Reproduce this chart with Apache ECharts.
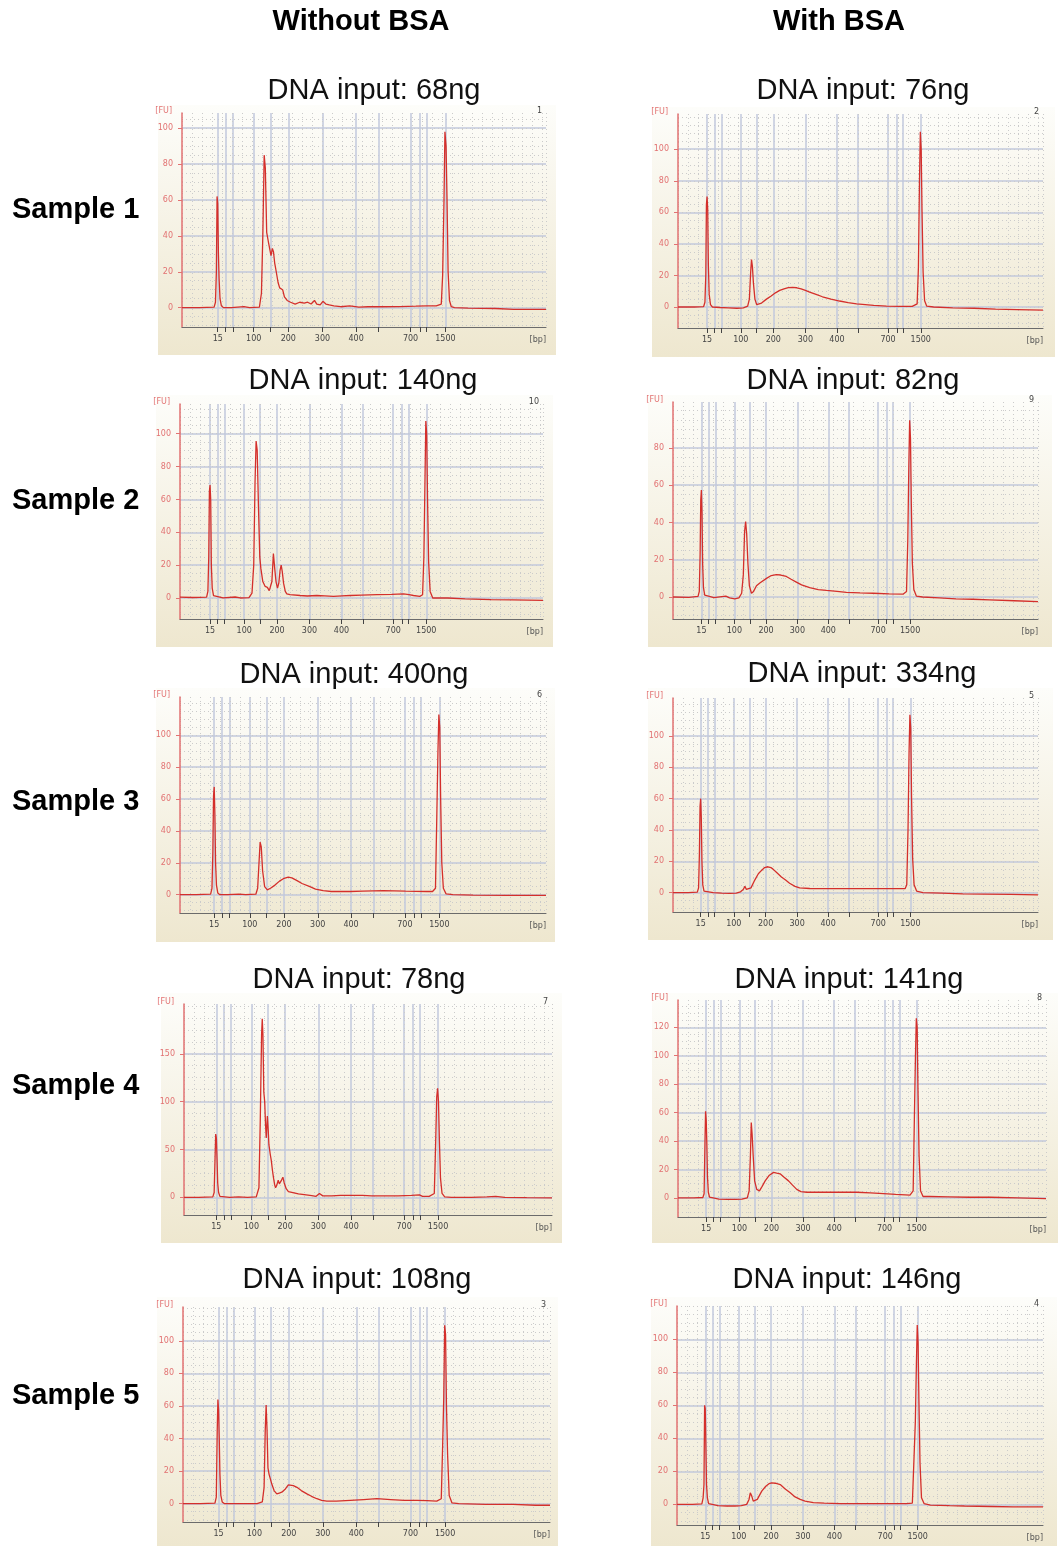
<!DOCTYPE html>
<html>
<head>
<meta charset="utf-8">
<title>Bioanalyzer traces with and without BSA</title>
<script src="https://cdn.jsdelivr.net/npm/echarts@6/dist/echarts.min.js"></script>
<style>
  html, body { margin: 0; padding: 0; background: #fff; }
  #chart { width: 1060px; height: 1546px; }
</style>
</head>
<body>
<div id="chart"></div>
<script>
// column / row headings
const conditions = ['Without BSA', 'With BSA']
const samples = ['Sample 1', 'Sample 2', 'Sample 3', 'Sample 4', 'Sample 5']
// panels in reading order: row by row, left (no BSA) then right (BSA)
const dnaInputs = ['68ng', '76ng', '140ng', '82ng', '400ng', '334ng', '78ng', '141ng', '108ng', '146ng']
const runNumbers = ['1', '2', '10', '9', '6', '5', '7', '8', '3', '4']

// DNA 1000 ladder, placed on a migration scale where 15 bp = 0 and 1500 bp = 100
const ladderBp = [15, 25, 50, 100, 150, 200, 300, 400, 500, 700, 850, 1000, 1500]
const ladderPos = [0, 3.5, 6.7, 15.8, 23.2, 31.0, 46.0, 60.8, 70.7, 84.7, 88.8, 91.8, 100]
const labelledBp = [15, 100, 200, 300, 400, 700, 1500]

// FU tick labels of each panel
const fuTicks = [
    [0, 20, 40, 60, 80, 100], [0, 20, 40, 60, 80, 100],
    [0, 20, 40, 60, 80, 100], [0, 20, 40, 60, 80],
    [0, 20, 40, 60, 80, 100], [0, 20, 40, 60, 80, 100],
    [0, 50, 100, 150], [0, 20, 40, 60, 80, 100, 120],
    [0, 20, 40, 60, 80, 100], [0, 20, 40, 60, 80, 100]
]

// traces: [migration position, FU]
const s1NoBsa = [[-15.7,0],[-8,0],[-1.6,0.3],[-1,3],[-0.6,20],[-0.3,62],[0,58],[0.3,30],[0.6,16],[1,5],[1.6,1],[2.5,0],[6,0],[11.5,0.6],[14,0],[18.3,0.3],[19.2,8],[19.8,40],[20.4,85],[20.9,78],[21.5,42],[22.2,37],[22.9,37],[23.4,29],[24,33],[24.5,31],[25,25],[25.7,20],[26.5,14],[27.2,11],[27.8,12],[28.5,10],[29.3,6],[30.5,4],[32,3],[34,2],[36,3],[38,2.5],[39.5,3],[41,2],[42.5,4],[43.5,2],[45,1.5],[46.2,3.5],[47.5,2],[49,1.5],[51,1],[54,0.5],[58,1],[62,0.3],[66,0.5],[72,0.5],[80,0.6],[87,0.8],[92,1],[96,1],[98.2,2],[98.8,18],[99.4,60],[99.8,98],[100.3,90],[100.7,62],[101.2,20],[101.8,4],[102.6,0.5],[104,0],[110,-0.3],[122,-0.5],[130,-1],[144.2,-1]]
const s1Bsa = [[-13.6,0],[-6,0],[-1.6,0.3],[-1,3],[-0.6,20],[-0.3,65],[0,70],[0.3,62],[0.6,27],[1,8],[1.6,1.5],[2.5,0],[6,-0.3],[10,-0.5],[14,-0.8],[17,-0.5],[19,0.5],[19.8,5],[20.4,22],[20.8,30],[21.2,26],[21.7,15],[22.4,5],[23.2,1.5],[24,1],[25.5,2.5],[27.8,5],[30,7],[32,9],[34,10.5],[36,11.5],[38,12.3],[40,12.5],[42,12.2],[44,11.5],[46,10.5],[48,9.5],[51,8],[54,6.5],[58,5],[62,3.8],[66,2.8],[70,2],[74,1.5],[78,1],[84,0.6],[90,0.4],[96,0.4],[98.3,2],[98.9,25],[99.4,80],[99.8,111],[100.2,100],[100.6,60],[101.1,22],[101.8,4],[102.8,0.5],[106,0],[115,-0.5],[125,-0.8],[135,-1.3],[145,-1.6],[157.2,-2]]
const s2NoBsa = [[-13.9,0.5],[-8,0.3],[-1.6,0.5],[-1,4],[-0.6,25],[-0.3,65],[0,68.7],[0.3,60],[0.6,20],[1,6],[1.6,1.5],[2.5,0.3],[6,0],[11.6,0.6],[14,0],[18,0.2],[19.4,3],[20.2,20],[20.8,70],[21.3,95.5],[21.8,90],[22.4,55],[23,25],[23.5,18],[24.4,10],[25.5,7],[26.5,6.5],[27.4,4.5],[28,4],[28.6,10],[29.3,27],[29.9,18],[30.5,10],[31.2,6],[31.8,9],[32.4,17],[32.9,20],[33.4,16],[34,9],[34.8,4],[35.5,2.5],[37,2],[41.7,1.5],[45,1.2],[49.4,1.5],[53,1.3],[57.1,1],[61,1.3],[64.8,1.5],[70,1.7],[77.2,2],[84,2.2],[89.5,2.5],[92,2],[94.1,1.5],[97,1],[98.3,2],[98.9,25],[99.4,70],[99.8,107.7],[100.2,100],[100.6,60],[101.1,22],[101.8,4],[103,0],[110,0],[118,-0.5],[130,-1],[140,-1.2],[154,-1.5]]
const s2Bsa = [[-13.6,0],[-6,-0.2],[-1.6,0.3],[-1,3],[-0.6,23],[-0.3,52],[0,57.4],[0.3,45],[0.6,18],[1,5],[1.6,1],[2.5,0],[6,-0.3],[11.7,0.5],[13.5,-0.5],[16,-1],[18,-0.5],[19.3,2],[20.1,12],[20.7,35],[21.2,40.5],[21.7,34],[22.3,18],[23,6],[24,2],[25,3],[26.4,6],[28,7.5],[31.2,10],[33.5,11.5],[35.9,12],[38,11.8],[40.7,11],[43,9.5],[45.5,8],[48,6.5],[51.9,5],[56,4],[59.9,3.5],[65,3],[69.5,2.5],[76,2.2],[82.3,2],[90,1.7],[96.6,1.5],[98.3,3],[98.9,30],[99.4,70],[99.8,94.8],[100.2,85],[100.6,50],[101.1,18],[101.8,4],[103,0.5],[106,0],[114,-0.5],[122,-1],[130,-1.2],[138,-1.5],[150,-2],[161.3,-2.5]]
const s3NoBsa = [[-15.2,0],[-8,0],[-1.6,0.3],[-1,4],[-0.6,27],[-0.3,62],[0,67.6],[0.3,50],[0.6,20],[1,6],[1.6,1],[2.5,0],[6,0],[11,0.3],[14,0],[18.5,0.3],[19.3,4],[19.9,20],[20.4,33],[20.9,30],[21.5,15],[22.4,5],[23.6,3],[25,4],[27,6],[29,8.5],[30.7,10],[32.9,11],[34.5,10.5],[36.6,9],[39,7],[42.5,5],[45,3.5],[48.4,2.5],[52,2],[60.3,2],[66,2.2],[75.1,2.5],[85,2.2],[94.4,2],[97,2],[98.3,4],[98.9,50],[99.4,90],[99.8,113],[100.2,105],[100.6,60],[101.1,20],[101.8,4],[103,0.5],[106,0],[115,-0.3],[130,-0.5],[147.4,-0.5]]
const s3Bsa = [[-13.2,0],[-6,0],[-1.6,0.3],[-1,3],[-0.6,25],[-0.3,55],[0,60],[0.3,48],[0.6,20],[1,5],[1.6,1],[2.5,0],[6,0],[10,-0.3],[13.8,-0.5],[17,-0.3],[19,0.5],[20.3,2],[21.1,4],[21.8,2],[22.6,1],[24,3],[25.8,8],[27.5,12],[28.9,14],[30.5,16],[32.1,16.5],[33.5,16],[34.5,15],[36.5,12.5],[38.5,10],[40.5,8],[42.4,6],[45,4],[47.2,3],[52,2.6],[58.3,2.5],[66,2.5],[74.2,2.5],[85,2.5],[94.9,2.5],[97.5,2.5],[98.3,5],[98.9,40],[99.4,90],[99.8,113.6],[100.2,105],[100.6,60],[101.1,22],[101.8,5],[103,1],[106,0],[115,-0.3],[125,-0.8],[135,-1],[148,-1.2],[160.9,-1.5]]
const s4NoBsa = [[-14.6,0],[-8,0],[-1.6,0.5],[-1,5],[-0.6,40],[-0.3,66],[0,62],[0.3,40],[0.6,15],[1,5],[1.6,1],[2.5,0],[6,0],[10,0.5],[14,0],[18,0.5],[19.2,10],[19.8,80],[20.4,170],[20.7,186.6],[21,170],[21.4,110],[21.8,100],[22.2,75],[22.5,62],[23,85],[23.4,70],[23.7,55],[24.3,45],[24.8,38],[25.3,28],[25.8,20],[26.3,13],[26.7,10],[27.3,13],[27.9,18],[28.4,14],[28.8,12],[29.4,18],[30,21],[30.6,15],[31.5,9],[32.5,6],[34.5,5],[37,3.5],[40.5,2.5],[43,1.8],[45,1],[46.5,4],[48,1.5],[52,1.5],[56,2],[60,2],[66,2],[70,1.5],[75,1.5],[82,1.5],[88,2],[91.6,2.5],[93,1],[96,1],[98.3,4],[98.9,55],[99.4,105],[99.8,114],[100.2,100],[100.6,60],[101.1,20],[101.8,4],[103,0.5],[106,0],[115,0],[122,0.5],[126,1],[130,0],[140,-0.3],[151.4,-0.5]]
const s4Bsa = [[-13.4,0],[-6,0],[-1.6,0.3],[-1,3],[-0.6,38],[-0.3,61],[0,55],[0.3,38],[0.6,15],[1,4],[1.6,0.5],[2.5,-0.5],[6,-0.8],[10,-1],[14,-1],[17,-0.8],[19.5,0],[20.4,5],[21,30],[21.4,53],[21.8,45],[22.3,30],[23,12],[24,6],[25.3,5],[26.5,8],[28,12],[30,16],[32,18],[33.5,17.5],[35.1,17],[37,14.5],[39.1,12],[41,9],[43,6],[45,4.5],[47.8,4],[54,4],[60.4,4],[66,4],[71.5,4],[78,3.5],[84.2,3],[90,2.5],[96.8,2],[98.3,5],[98.9,58],[99.4,100],[99.8,126.4],[100.2,120],[100.6,75],[101.1,30],[101.8,5],[103,1],[106,1],[115,0.8],[125,0.5],[135,0.5],[148,0],[161.4,-0.5]]
const s5NoBsa = [[-15.7,0],[-8,0],[-1.6,0.3],[-1,4],[-0.6,44],[-0.3,64],[0,58],[0.3,40],[0.6,18],[1,5],[1.6,1],[2.5,0],[6,0],[12,0],[17,0],[19.3,1],[20.1,10],[20.6,45],[21,60.5],[21.4,45],[21.8,22],[22.3,18],[23.5,12],[24.5,8],[25.7,6],[26.8,6.5],[27.9,7],[29.5,9],[30.8,11.5],[31.6,12.5],[33,11],[34.6,10],[36.5,8],[39,6],[41,4.5],[43.4,3],[45.5,2],[47.8,1.5],[52,1.5],[58.1,2],[64,2.5],[69.9,3],[76,2.5],[82,2],[87.5,2],[92,1.8],[96.3,1.5],[98.3,3],[98.9,35],[99.4,65],[99.8,109.6],[100.2,104],[100.6,60],[101.1,30],[101.8,5],[103,0.5],[106,0],[118,-0.5],[130,-0.5],[140,-1],[146.3,-1]]
const s5Bsa = [[-13.3,0],[-6,0],[-1.6,0.3],[-1,4],[-0.6,12],[-0.3,60],[0,58],[0.3,35],[0.6,12],[1,4],[1.6,0.5],[2.5,-0.5],[6,-0.8],[10,-1],[14,-1],[17,-0.8],[19.5,0],[20.6,3],[21.2,7],[21.5,8],[21.9,5],[22.6,2],[23.5,1.5],[24.5,3],[26.6,8],[28.5,11],[30,12.5],[31.3,13],[33,12.8],[35.3,12],[37.5,9.5],[40,7],[42.3,4.5],[44.7,3],[47,2],[50.9,1],[56,0.7],[63.5,0.5],[75,0.5],[85,0.5],[94.8,0.5],[97.5,0.8],[98.3,2],[98.9,50],[99.4,85],[99.8,108.7],[100.2,98],[100.6,62],[101.1,25],[101.8,4],[103,0.5],[106,-0.5],[115,-0.8],[122,-1],[135,-1.3],[145,-1.5],[159,-1.5]]

const traces = [s1NoBsa, s1Bsa, s2NoBsa, s2Bsa, s3NoBsa, s3Bsa, s4NoBsa, s4Bsa, s5NoBsa, s5Bsa]

// layout of every panel: beige box, plot grid, axis extents
const panels = [
    { box: [158, 105, 398, 250], grid: [182, 113, 364, 214], x: [-15.7, 144.2], y: [-10.8, 108.5], title: [374, 91] },
    { box: [652, 107, 403, 250], grid: [678, 114, 365, 214], x: [-13.6, 157.2], y: [-13.3, 122.3], title: [863, 91] },
    { box: [156, 395, 397, 252], grid: [180, 404, 363, 215], x: [-13.9, 154.0], y: [-12.8, 118.1], title: [363, 381] },
    { box: [648, 395, 404, 252], grid: [673, 402, 365, 217], x: [-13.6, 161.3], y: [-11.8, 104.6], title: [853, 381] },
    { box: [156, 688, 399, 254], grid: [180, 697, 366, 216], x: [-15.2, 147.4], y: [-11.5, 124.0], title: [354, 675] },
    { box: [648, 688, 405, 252], grid: [673, 698, 365, 214], x: [-13.2, 160.9], y: [-12.4, 124.3], title: [862, 674] },
    { box: [161, 993, 401, 250], grid: [184, 1004, 368, 211], x: [-14.6, 151.4], y: [-18.5, 202.0], title: [359, 980] },
    { box: [652, 993, 406, 250], grid: [678, 1000, 368, 217], x: [-13.4, 161.4], y: [-13.4, 139.2], title: [849, 980] },
    { box: [157, 1297, 401, 249], grid: [183, 1307, 367, 215], x: [-15.7, 146.3], y: [-11.3, 120.8], title: [357, 1280] },
    { box: [651, 1297, 406, 249], grid: [677, 1306, 366, 219], x: [-13.3, 159.0], y: [-12.5, 120.2], title: [847, 1280] }
]
const headerX = [361, 839]
const sampleY = [210, 501, 802, 1086, 1396]

const red = '#d42f2b'
const axisRed = '#e27272'
const gridBlue = '#c2c9dc'
const dotGrey = '#cbcbcb'
const textFont = '"Liberation Sans", Arial, sans-serif'
const smallFont = '"DejaVu Sans", sans-serif'

const labelPos = labelledBp.map(b => ladderPos[ladderBp.indexOf(b)])

const chart = echarts.init(document.getElementById('chart'), null, { renderer: 'canvas' })

let option = {
    animation: false,
    backgroundColor: '#ffffff',
    grid: [],
    xAxis: [],
    yAxis: [],
    series: [],
    graphic: []
}

conditions.forEach((c, i) => {
    option.graphic.push({
        type: 'text', x: headerX[i], y: 22, z: 100,
        style: { text: c, font: 'bold 29px ' + textFont, fill: '#000', textAlign: 'center', textVerticalAlign: 'middle' }
    })
})
samples.forEach((s, i) => {
    option.graphic.push({
        type: 'text', x: 12, y: sampleY[i], z: 100,
        style: { text: s, font: 'bold 29px ' + textFont, fill: '#000', textAlign: 'left', textVerticalAlign: 'middle' }
    })
})

panels.forEach((p, i) => {
    let [gx, gy, gw, gh] = p.grid
    let ticks = fuTicks[i]
    let major = ticks[1] - ticks[0]
    let minor = major / 4
    // dotted background rows, every quarter of a labelled step
    let dotRows = []
    for (let v = Math.ceil(p.y[0] / minor) * minor; v <= p.y[1]; v += minor) dotRows.push(v)

    option.graphic.push({
        type: 'rect', z: -100,
        shape: { x: p.box[0], y: p.box[1], width: p.box[2], height: p.box[3] },
        style: {
            fill: new echarts.graphic.LinearGradient(0, 0, 0, 1, [
                { offset: 0, color: '#fdfdfa' },
                { offset: 1, color: '#eee7cf' }
            ])
        }
    })
    option.graphic.push({
        type: 'text', x: p.title[0], y: p.title[1], z: 100,
        style: { text: 'DNA input: ' + dnaInputs[i], font: '29px ' + textFont, fill: '#111', textAlign: 'center', textVerticalAlign: 'middle' }
    })
    option.graphic.push({
        type: 'text', x: gx - 10, y: gy - 2, z: 100,
        style: { text: '[FU]', font: '8px ' + smallFont, fill: axisRed, textAlign: 'right', textVerticalAlign: 'middle' }
    })
    option.graphic.push({
        type: 'text', x: gx + gw, y: gy + gh + 13, z: 100,
        style: { text: '[bp]', font: '8px ' + smallFont, fill: '#555', textAlign: 'right', textVerticalAlign: 'middle' }
    })
    option.graphic.push({
        type: 'text', x: gx + gw - 4, y: gy - 2, z: 100,
        style: { text: runNumbers[i], font: '8px ' + smallFont, fill: '#444', textAlign: 'right', textVerticalAlign: 'middle' }
    })

    option.grid.push({ left: gx, top: gy, width: gw, height: gh, show: false })

    // ladder axis (solid ladder lines)
    option.xAxis.push({
        type: 'value', gridIndex: i, min: p.x[0], max: p.x[1], position: 'bottom',
        axisLine: { onZero: false, lineStyle: { color: '#6b6b6b', width: 1 } },
        axisTick: { customValues: ladderPos, length: 5, lineStyle: { color: '#444' } },
        axisLabel: {
            customValues: labelPos, margin: 8, fontSize: 8, fontFamily: smallFont, color: '#444',
            formatter: v => String(ladderBp[ladderPos.indexOf(v)])
        },
        splitLine: { show: true, lineStyle: { color: gridBlue, width: 1.5 } }
    })
    // dotted background columns
    option.xAxis.push({
        type: 'value', gridIndex: i, min: 0, max: gw, interval: 10, position: 'top',
        axisLine: { show: false }, axisTick: { show: false }, axisLabel: { show: false },
        splitLine: { show: true, lineStyle: { color: dotGrey, width: 1, type: [1, 3] } }
    })
    option.yAxis.push({
        type: 'value', gridIndex: i, min: p.y[0], max: p.y[1], position: 'left',
        axisLine: { show: true, onZero: false, lineStyle: { color: axisRed, width: 1.5 } },
        axisTick: { show: true, customValues: ticks, length: 4, lineStyle: { color: axisRed } },
        axisLabel: { customValues: ticks, margin: 9, fontSize: 8, fontFamily: smallFont, color: axisRed },
        splitLine: { show: true, lineStyle: { color: gridBlue, width: 1.5 } }
    })
    option.yAxis.push({
        type: 'value', gridIndex: i, min: p.y[0], max: p.y[1], position: 'right',
        axisLine: { show: false }, axisLabel: { show: false },
        axisTick: { show: false, customValues: dotRows },
        splitLine: { show: true, lineStyle: { color: dotGrey, width: 1, type: [1, 3] } }
    })

    option.series.push({
        type: 'line', xAxisIndex: i * 2, yAxisIndex: i * 2,
        data: traces[i], symbol: 'none', z: 5,
        lineStyle: { color: red, width: 1.3 }
    })
})

chart.setOption(option)
window.addEventListener('resize', chart.resize)
</script>
</body>
</html>
